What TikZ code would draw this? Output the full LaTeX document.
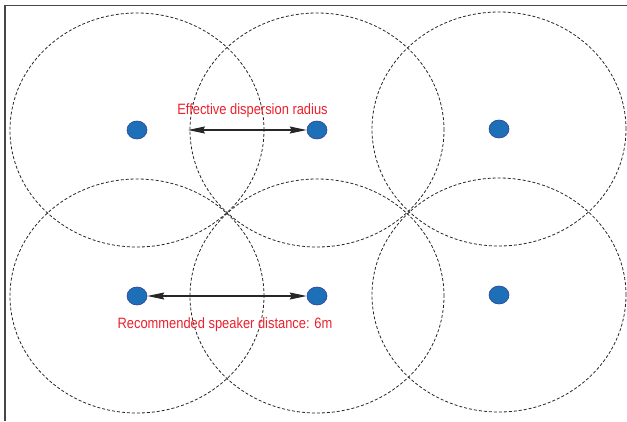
\documentclass[tikz,border=0pt]{standalone}
\usepackage{fontspec}
\setmainfont{Liberation Sans}
\usetikzlibrary{shapes.geometric,arrows.meta}
\definecolor{lblred}{RGB}{236,32,44}
\definecolor{dotblue}{RGB}{29,112,183}
\definecolor{dotedge}{RGB}{46,64,150}
\definecolor{framegray}{RGB}{70,70,70}
\tikzset{
  spk/.style={ellipse, fill=dotblue, draw=dotedge, line width=0.6pt, minimum width=20pt, minimum height=18pt, inner sep=0pt},
  zone/.style={draw=black!85, dashed, dash pattern=on 3pt off 2pt, line width=0.8pt},
  dimarrow/.style={draw=black!85, line width=1.2pt, {Stealth[length=17pt,width=7pt,inset=2pt]}-{Stealth[length=17pt,width=7pt,inset=2pt]}},
  lbl/.style={text=lblred, font=\fontsize{15}{18}\selectfont, inner sep=0pt}
}
\begin{document}
\begin{tikzpicture}[x=1pt,y=-1pt]
\useasboundingbox (0,0) rectangle (627,421);
% frame (only left and top edges visible)
\draw[framegray, line width=1.5pt] (5,421) -- (5,5.5) -- (627,5.5);
% speakers
\node[spk] (s1) at (137,130) {};
\node[spk] (s2) at (317,130) {};
\node[spk] (s3) at (499,129) {};
\node[spk] (s4) at (137,296) {};
\node[spk] (s5) at (317,296) {};
\node[spk] (s6) at (499,295) {};
% coverage zones
\foreach \s in {s1,s2,s3,s4,s5,s6}
  \draw[zone] (\s.center) ellipse [x radius=127pt, y radius=117pt];
% dimension arrows
\coordinate (r0) at (188,130);
\draw[dimarrow] (r0) -- (s2.west);
\draw[dimarrow] (s4.east) -- (s5.west);
% labels
\node[lbl] (t1) at (252.5,111) {\scalebox{0.86}[1]{Effective dispersion radius}};
\node[lbl] (t2) at (225,325) {\scalebox{0.86}[1]{Recommended speaker distance: 6m}};
\end{tikzpicture}
\end{document}
